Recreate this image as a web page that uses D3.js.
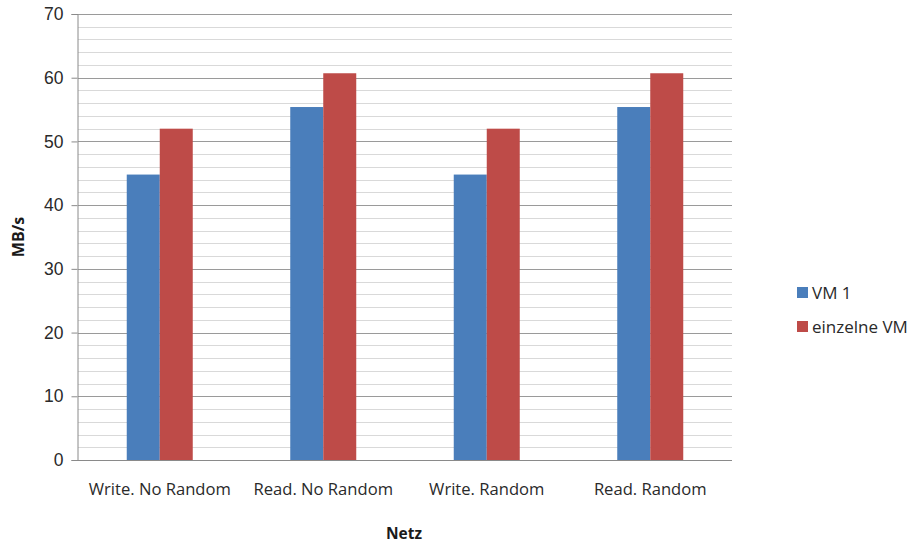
<!DOCTYPE html>
<html>
<head>
<meta charset="utf-8">
<script src="https://cdn.jsdelivr.net/npm/d3@7"></script>
<style>
  html, body { margin: 0; padding: 0; background: #fff; }
  svg { display: block; font-family: "Open Sans", "Noto Sans", sans-serif; }
</style>
</head>
<body>
<svg id="chart" width="910" height="544"></svg>
<script>
// Throughput per test case (MB/s)
const categories = ["Write. No Random", "Read. No Random", "Write. Random", "Read. Random"];
const seriesNames = ["VM 1", "einzelne VM"];
const vm1 = [44.8, 55.4, 44.8, 55.4];
const einzelneVM = [52.0, 60.7, 52.0, 60.7];
const yTicks = [0, 10, 20, 30, 40, 50, 60, 70];
const minorTicks = [2, 4, 6, 8, 12, 14, 16, 18, 22, 24, 26, 28, 32, 34, 36, 38, 42, 44, 46, 48, 52, 54, 56, 58, 62, 64, 66, 68];
const colors = ["#4a7ebb", "#be4b48"];

const svg = d3.select("#chart");
const margin = { left: 78, right: 178, top: 14, bottom: 84 };
const W = 910, H = 544;
const plotW = W - margin.left - margin.right;
const plotH = H - margin.top - margin.bottom;

const x = d3.scaleBand().domain(categories).range([margin.left, margin.left + plotW]);
const y = d3.scaleLinear().domain([0, 70]).range([margin.top + plotH, margin.top]);
const barW = 33;

// minor gridlines
svg.append("g").selectAll("line").data(minorTicks).join("line")
  .attr("x1", margin.left).attr("x2", margin.left + plotW)
  .attr("y1", d => Math.round(y(d)) + 0.5).attr("y2", d => Math.round(y(d)) + 0.5)
  .attr("stroke", "#d9d9d9").attr("stroke-width", 1);

// major gridlines
svg.append("g").selectAll("line").data(yTicks.filter(d => d > 0)).join("line")
  .attr("x1", margin.left).attr("x2", margin.left + plotW)
  .attr("y1", d => Math.round(y(d)) + 0.5).attr("y2", d => Math.round(y(d)) + 0.5)
  .attr("stroke", "#9a9a9a").attr("stroke-width", 1);

// bars
const seriesData = [vm1, einzelneVM];
seriesData.forEach((vals, s) => {
  svg.append("g").selectAll("rect").data(vals).join("rect")
    .attr("x", (d, i) => x(categories[i]) + x.bandwidth() / 2 + (s - 1) * barW)
    .attr("y", d => y(d))
    .attr("width", barW)
    .attr("height", d => y(0) - y(d))
    .attr("fill", colors[s]);
});

// y axis
const yAxis = d3.axisLeft(y).tickValues(yTicks).tickSize(6).tickPadding(8);
const gy = svg.append("g").attr("transform", `translate(${margin.left - 0.5},0)`).call(yAxis);
gy.select(".domain").attr("stroke", "#8a8a8a");
gy.selectAll(".tick line").attr("stroke", "#8a8a8a");
gy.selectAll(".tick text").attr("font-size", 17.5).attr("fill", "#2a2a2a");

// x axis baseline
svg.append("line")
  .attr("x1", margin.left - 6).attr("x2", margin.left + plotW)
  .attr("y1", Math.round(y(0)) + 0.5).attr("y2", Math.round(y(0)) + 0.5)
  .attr("stroke", "#8a8a8a");

// category labels
svg.append("g").selectAll("text").data(categories).join("text")
  .attr("x", d => x(d) + x.bandwidth() / 2)
  .attr("y", y(0) + 35)
  .attr("text-anchor", "middle")
  .attr("font-size", 16.6).attr("fill", "#2a2a2a")
  .text(d => d);

// axis titles
svg.append("text")
  .attr("x", 404).attr("y", 539)
  .attr("text-anchor", "middle")
  .attr("font-size", 15.5).attr("font-weight", "bold").attr("fill", "#1a1a1a")
  .text("Netz");
svg.append("text")
  .attr("transform", `translate(24,${margin.top + plotH / 2}) rotate(-90)`)
  .attr("text-anchor", "middle")
  .attr("font-size", 16).attr("font-weight", "bold").attr("fill", "#1a1a1a")
  .text("MB/s");

// legend
const legend = svg.append("g").attr("transform", "translate(797,287)");
seriesNames.forEach((name, i) => {
  const g = legend.append("g").attr("transform", `translate(0,${i * 34})`);
  g.append("rect").attr("width", 11).attr("height", 11).attr("fill", colors[i]);
  g.append("text").attr("x", 15).attr("y", 11.5)
    .attr("font-size", 17).attr("fill", "#2a2a2a").text(name);
});
</script>
</body>
</html>
